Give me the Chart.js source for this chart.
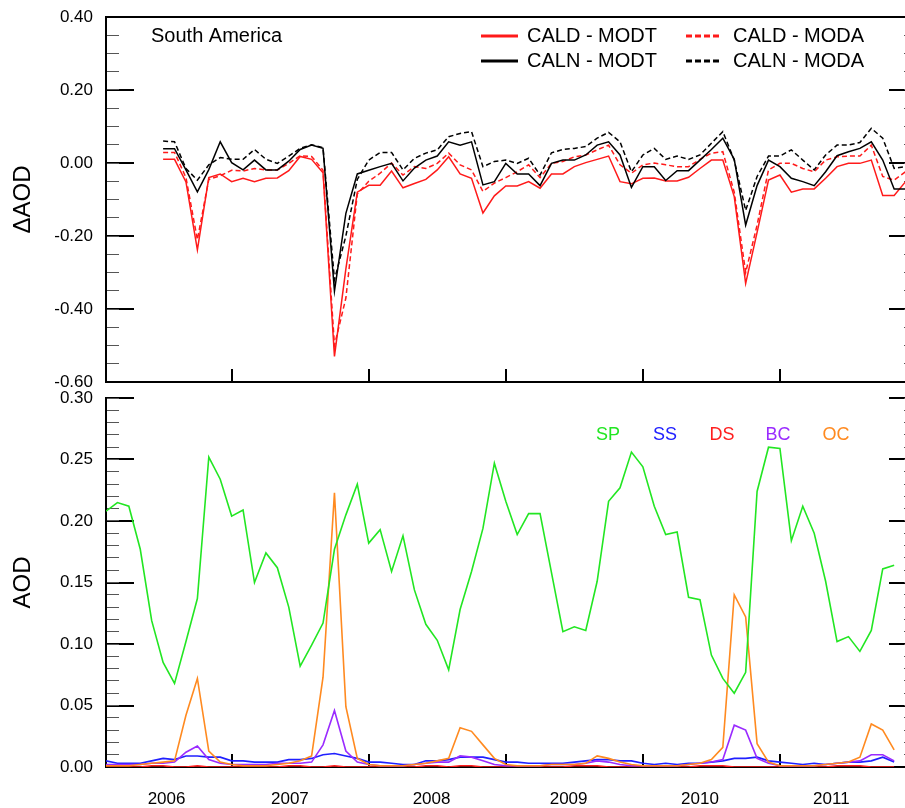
<!DOCTYPE html>
<html>
<head>
<meta charset="utf-8">
<script src="https://cdn.jsdelivr.net/npm/chart.js@4.4.1/dist/chart.umd.min.js"></script>
<style>
  html, body { margin: 0; padding: 0; background: #fff; overflow: hidden; }
  #wrap { position: relative; width: 905px; height: 808px; overflow: hidden; }
  #top { position: absolute; left: 0; top: 0; }
  #bottom { position: absolute; left: 0; top: 385px; }
</style>
</head>
<body>
<div id="wrap">
  <canvas id="top" width="920" height="395"></canvas>
  <canvas id="bottom" width="920" height="423"></canvas>
</div>
<script>
// x runs in months, 0 = Feb 2006
var yearTicks = [11, 23, 35, 47, 59, 71];
var yearNames = ['2006', '2007', '2008', '2009', '2010', '2011'];
var yearNamePos = [5.3, 16.1, 28.5, 40.5, 52.0, 63.5];

var dAodTicks = [-0.6, -0.4, -0.2, 0, 0.2, 0.4];
var aodTicks = [0, 0.05, 0.1, 0.15, 0.2, 0.25, 0.3];

// top panel: AOD differences, first value is month 5
var diffStart = 5;
var caldModt = [0.010, 0.010, -0.052, -0.238, -0.040, -0.030, -0.051, -0.042, -0.051, -0.042,
  -0.041, -0.021, 0.018, 0.010, -0.027, -0.530, -0.290, -0.080, -0.061, -0.061,
  -0.022, -0.068, -0.056, -0.045, -0.019, 0.017, -0.030, -0.042, -0.137, -0.090,
  -0.063, -0.063, -0.051, -0.069, -0.030, -0.030, -0.010, 0.001, 0.010, 0.019,
  -0.051, -0.057, -0.042, -0.041, -0.049, -0.049, -0.039, -0.015, 0.008, 0.008,
  -0.092, -0.330, -0.190, -0.047, -0.033, -0.080, -0.071, -0.071, -0.042, -0.010,
  -0.001, -0.001, 0.008, -0.089, -0.089, -0.051];
var caldModa = [0.029, 0.029, -0.040, -0.210, -0.045, -0.035, -0.020, -0.022, -0.015, -0.019,
  -0.019, -0.001, 0.020, 0.018, -0.020, -0.500, -0.370, -0.085, -0.050, -0.028,
  0.000, -0.033, -0.010, -0.015, -0.001, 0.027, -0.005, -0.019, -0.078, -0.055,
  -0.040, -0.024, -0.005, -0.040, -0.001, 0.004, 0.017, 0.022, 0.036, 0.049,
  -0.005, -0.028, -0.005, 0.000, -0.005, -0.010, -0.010, 0.010, 0.027, 0.031,
  -0.080, -0.300, -0.170, -0.019, -0.001, -0.001, -0.015, -0.024, 0.008, 0.017,
  0.019, 0.019, 0.049, -0.037, -0.047, -0.024];
var calnModt = [0.039, 0.039, -0.019, -0.079, -0.018, 0.058, 0.001, -0.019, 0.008, -0.019,
  -0.019, 0.005, 0.037, 0.049, 0.040, -0.351, -0.138, -0.030, -0.020, -0.010,
  -0.001, -0.049, -0.014, 0.008, 0.019, 0.058, 0.049, 0.058, -0.060, -0.051,
  -0.001, -0.030, -0.030, -0.062, -0.001, 0.008, 0.008, 0.022, 0.049, 0.058,
  0.022, -0.067, -0.010, -0.010, -0.048, -0.021, -0.021, 0.008, 0.037, 0.068,
  0.010, -0.170, -0.062, 0.008, -0.010, -0.042, -0.051, -0.062, -0.024, 0.020,
  0.031, 0.040, 0.058, 0.008, -0.071, -0.071];
var calnModa = [0.060, 0.058, -0.015, -0.047, -0.005, 0.015, 0.010, 0.010, 0.037, 0.010,
  -0.001, 0.019, 0.040, 0.050, 0.042, -0.320, -0.200, -0.045, 0.008, 0.029,
  0.029, -0.019, 0.013, 0.027, 0.036, 0.072, 0.081, 0.086, -0.010, 0.004,
  0.008, -0.001, 0.013, -0.033, 0.028, 0.037, 0.040, 0.045, 0.068, 0.084,
  0.058, -0.024, 0.022, 0.040, 0.010, 0.019, 0.010, 0.022, 0.054, 0.086,
  0.008, -0.130, -0.037, 0.019, 0.019, 0.036, 0.008, -0.019, 0.022, 0.049,
  0.049, 0.056, 0.095, 0.068, -0.015, -0.010];

// bottom panel: AOD by species, months 0..69
var sp = [0.208, 0.215, 0.212, 0.177, 0.119, 0.085, 0.068, 0.102, 0.137, 0.252,
  0.234, 0.204, 0.209, 0.150, 0.174, 0.162, 0.130, 0.082, 0.099, 0.117,
  0.177, 0.205, 0.230, 0.182, 0.193, 0.159, 0.188, 0.144, 0.116, 0.103,
  0.079, 0.128, 0.159, 0.194, 0.247, 0.216, 0.189, 0.206, 0.206, 0.158,
  0.110, 0.114, 0.111, 0.151, 0.216, 0.227, 0.256, 0.244, 0.212, 0.189,
  0.191, 0.138, 0.136, 0.091, 0.072, 0.060, 0.077, 0.224, 0.260, 0.259,
  0.184, 0.212, 0.190, 0.151, 0.102, 0.106, 0.094, 0.111, 0.161, 0.164];
var ss = [0.005, 0.003, 0.003, 0.003, 0.005, 0.007, 0.006, 0.009, 0.009, 0.008,
  0.008, 0.005, 0.005, 0.004, 0.004, 0.004, 0.006, 0.006, 0.007, 0.010,
  0.011, 0.009, 0.007, 0.004, 0.004, 0.003, 0.002, 0.002, 0.005, 0.005,
  0.006, 0.008, 0.008, 0.008, 0.006, 0.004, 0.004, 0.003, 0.003, 0.003,
  0.003, 0.004, 0.005, 0.006, 0.006, 0.005, 0.005, 0.003, 0.002, 0.003,
  0.002, 0.003, 0.003, 0.004, 0.005, 0.007, 0.007, 0.008, 0.005, 0.004,
  0.003, 0.002, 0.003, 0.002, 0.003, 0.004, 0.004, 0.005, 0.008, 0.004];
// dust stays on the zero line over South America
var ds = [0.000, 0.000, 0.000, 0.000, 0.001, 0.001, 0.000, 0.000, 0.001, 0.000,
  0.000, 0.000, 0.000, 0.000, 0.000, 0.000, 0.001, 0.001, 0.000, 0.000,
  0.001, 0.000, 0.000, 0.000, 0.000, 0.000, 0.000, 0.000, 0.001, 0.001,
  0.000, 0.001, 0.001, 0.000, 0.000, 0.000, 0.000, 0.000, 0.000, 0.000,
  0.000, 0.001, 0.001, 0.001, 0.000, 0.000, 0.000, 0.000, 0.000, 0.000,
  0.000, 0.000, 0.001, 0.001, 0.001, 0.000, 0.000, 0.000, 0.000, 0.000,
  0.000, 0.000, 0.000, 0.000, 0.001, 0.001, 0.001, 0.000, 0.000, 0.000];
var bc = [0.002, 0.002, 0.002, 0.002, 0.003, 0.003, 0.004, 0.012, 0.017, 0.006,
  0.003, 0.002, 0.002, 0.002, 0.002, 0.003, 0.003, 0.003, 0.004, 0.018,
  0.046, 0.013, 0.004, 0.002, 0.001, 0.001, 0.001, 0.002, 0.003, 0.004,
  0.004, 0.009, 0.008, 0.005, 0.002, 0.001, 0.001, 0.001, 0.001, 0.002,
  0.002, 0.002, 0.003, 0.005, 0.004, 0.002, 0.001, 0.001, 0.001, 0.001,
  0.001, 0.002, 0.003, 0.004, 0.006, 0.034, 0.030, 0.007, 0.003, 0.001,
  0.001, 0.001, 0.001, 0.002, 0.003, 0.004, 0.005, 0.010, 0.010, 0.005];
var oc = [0.001, 0.001, 0.001, 0.002, 0.003, 0.004, 0.005, 0.042, 0.072, 0.013,
  0.004, 0.002, 0.001, 0.001, 0.001, 0.002, 0.003, 0.005, 0.009, 0.073,
  0.223, 0.049, 0.007, 0.002, 0.001, 0.001, 0.001, 0.002, 0.003, 0.005,
  0.007, 0.032, 0.029, 0.018, 0.007, 0.002, 0.001, 0.001, 0.001, 0.002,
  0.002, 0.002, 0.003, 0.009, 0.007, 0.004, 0.002, 0.001, 0.001, 0.001,
  0.001, 0.002, 0.003, 0.006, 0.016, 0.140, 0.122, 0.019, 0.004, 0.001,
  0.001, 0.001, 0.001, 0.002, 0.003, 0.004, 0.008, 0.035, 0.030, 0.014];

var FONT = "'Liberation Sans', Arial, Helvetica, sans-serif";
Chart.defaults.font.family = FONT;
Chart.defaults.color = '#000';

function toPoints(values, start) {
  return values.map(function (v, i) { return { x: start + i, y: v }; });
}

function setTicks(list) {
  return function (scale) {
    scale.ticks = list.map(function (v) { return { value: v }; });
  };
}

// bottom axis line with inward year ticks
function yearTickAxis() {
  return {
    type: 'linear', position: 'bottom', weight: 0, min: 0, max: 71,
    afterBuildTicks: setTicks(yearTicks),
    ticks: { display: false },
    grid: { drawOnChartArea: false, tickLength: -13, lineWidth: 2, color: '#000' },
    border: { display: true, width: 2, color: '#000' },
    afterFit: function (s) { s.height = 0; }
  };
}

function majorAxis(side, min, max, list, title) {
  var ax = {
    type: 'linear', position: side, weight: 1, min: min, max: max,
    afterBuildTicks: setTicks(list),
    ticks: { display: false },
    grid: { drawOnChartArea: false, tickLength: -28, lineWidth: 2, color: '#000' },
    border: { display: true, width: 2, color: '#000' },
    afterFit: function (s) { s.width = 0; }
  };
  if (side === 'left') {
    ax.ticks = {
      display: true, padding: 41, font: { size: 17 },
      callback: function (v) { return Math.abs(v) < 1e-9 ? '0.00' : v.toFixed(2); }
    };
    ax.title = { display: true, text: title, font: { size: 24 }, padding: { top: 9, bottom: 0 } };
    // labels sit left of inward ticks; keep the plot box where the layout padding puts it
    ax.afterFit = function (s) {
      s.width = 106;
      s.paddingTop = 0;
      s.paddingBottom = 0;
    };
  }
  return ax;
}

function minorAxis(side, min, max, step) {
  return {
    type: 'linear', position: side, weight: 0, min: min, max: max,
    ticks: { display: false, stepSize: step },
    grid: { drawOnChartArea: false, tickLength: -13, lineWidth: 1, color: '#555' },
    border: { display: false },
    afterFit: function (s) { s.width = 0; }
  };
}

var topDecor = {
  id: 'topDecor',
  afterDraw: function (chart) {
    var ctx = chart.ctx, a = chart.chartArea;
    ctx.save();
    ctx.textBaseline = 'middle';
    ctx.textAlign = 'left';
    ctx.fillStyle = '#000';
    ctx.font = '20px ' + FONT;
    ctx.fillText('South America', a.left + 45, a.top + 19);

    // two-column legend
    var colSample = [375, 580], sampleLen = [37, 34], colText = [421, 627];
    var rowY = [a.top + 19, a.top + 44];
    chart.data.datasets.forEach(function (d, i) {
      var c = i % 2, r = Math.floor(i / 2);
      var x0 = a.left + colSample[c], y = rowY[r];
      ctx.beginPath();
      ctx.lineWidth = 3;
      ctx.strokeStyle = d.borderColor;
      ctx.setLineDash(d.borderDash ? [6, 3] : []);
      ctx.moveTo(x0, y);
      ctx.lineTo(x0 + sampleLen[c], y);
      ctx.stroke();
      ctx.setLineDash([]);
      ctx.fillStyle = '#000';
      ctx.fillText(d.label, a.left + colText[c], y);
    });
    ctx.restore();
  }
};

var bottomDecor = {
  id: 'bottomDecor',
  afterDraw: function (chart) {
    var ctx = chart.ctx, a = chart.chartArea;
    var labelX = [502, 559, 616, 672, 730];
    ctx.save();
    ctx.textBaseline = 'middle';
    ctx.textAlign = 'center';
    ctx.font = '18px ' + FONT;
    chart.data.datasets.forEach(function (d, i) {
      ctx.fillStyle = d.borderColor;
      ctx.fillText(d.label, a.left + labelX[i], a.top + 37);
    });
    ctx.restore();
  }
};

var RED = '#ff1a1a';

new Chart(document.getElementById('top'), {
  type: 'line',
  data: {
    datasets: [
      { label: 'CALD - MODT', data: toPoints(caldModt, diffStart), borderColor: RED, order: 2 },
      { label: 'CALD - MODA', data: toPoints(caldModa, diffStart), borderColor: RED, borderDash: [5, 3], order: 3 },
      { label: 'CALN - MODT', data: toPoints(calnModt, diffStart), borderColor: '#000', order: 0 },
      { label: 'CALN - MODA', data: toPoints(calnModa, diffStart), borderColor: '#000', borderDash: [5, 3], order: 1 }
    ]
  },
  options: {
    responsive: false,
    animation: false,
    events: [],
    layout: { autoPadding: false, padding: { top: 17, right: 3, bottom: 13, left: 0 } },
    elements: { point: { radius: 0 }, line: { tension: 0, borderWidth: 1.5, fill: false } },
    plugins: { legend: { display: false }, tooltip: { enabled: false } },
    scales: {
      x: yearTickAxis(),
      xTop: {
        type: 'linear', position: 'top', min: 0, max: 71,
        ticks: { display: false },
        grid: { display: false, drawTicks: false },
        border: { display: true, width: 2, color: '#000' },
        afterFit: function (s) { s.height = 0; }
      },
      y: majorAxis('left', -0.6, 0.4, dAodTicks, '\u0394AOD'),
      yMinor: minorAxis('left', -0.6, 0.4, 0.05),
      yR: majorAxis('right', -0.6, 0.4, dAodTicks),
      yRMinor: minorAxis('right', -0.6, 0.4, 0.05)
    }
  },
  plugins: [topDecor]
});

new Chart(document.getElementById('bottom'), {
  type: 'line',
  data: {
    datasets: [
      { label: 'SP', data: toPoints(sp, 0), borderColor: '#22e622', order: 0 },
      { label: 'SS', data: toPoints(ss, 0), borderColor: '#2020ff', order: 3 },
      { label: 'DS', data: toPoints(ds, 0), borderColor: '#ff1f1f', order: 4 },
      { label: 'BC', data: toPoints(bc, 0), borderColor: '#9a2bff', order: 2 },
      { label: 'OC', data: toPoints(oc, 0), borderColor: '#ff8a20', order: 1 }
    ]
  },
  options: {
    responsive: false,
    animation: false,
    events: [],
    layout: { autoPadding: false, padding: { top: 13, right: 3, bottom: 0, left: 0 } },
    elements: { point: { radius: 0 }, line: { tension: 0, borderWidth: 1.6, fill: false } },
    plugins: { legend: { display: false }, tooltip: { enabled: false } },
    scales: {
      x: yearTickAxis(),
      xYear: {
        type: 'linear', position: 'bottom', weight: 1, min: 0, max: 71,
        afterBuildTicks: setTicks(yearNamePos),
        ticks: {
          padding: 22, maxRotation: 0, autoSkip: false, font: { size: 17 },
          callback: function (v, i) { return yearNames[i]; }
        },
        grid: { display: false, drawTicks: false },
        border: { display: false },
        afterFit: function (s) { s.height = 41; }
      },
      y: majorAxis('left', 0, 0.3, aodTicks, 'AOD'),
      yMinor: minorAxis('left', 0, 0.3, 0.01),
      yR: majorAxis('right', 0, 0.3, aodTicks),
      yRMinor: minorAxis('right', 0, 0.3, 0.01)
    }
  },
  plugins: [bottomDecor]
});
</script>
</body>
</html>
